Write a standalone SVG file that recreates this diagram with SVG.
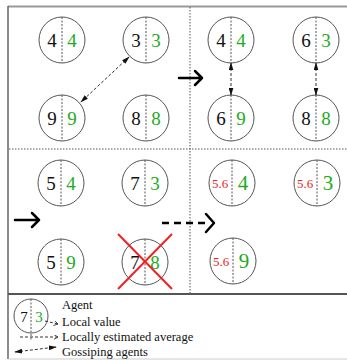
<svg xmlns="http://www.w3.org/2000/svg" width="347" height="360" viewBox="0 0 347 360">
<style>
.c{fill:none;stroke:#555;stroke-width:1}
.v{stroke:#555;stroke-width:1;stroke-dasharray:2 1.5}
.k{font-family:"Liberation Serif",serif;font-size:19px;fill:#111;text-anchor:middle}
.g{font-family:"Liberation Serif",serif;font-size:19px;fill:#22aa22;text-anchor:middle}
.gb{font-family:"Liberation Serif",serif;font-size:21px;fill:#22aa22;text-anchor:middle}
.r{font-family:"Liberation Serif",serif;font-size:13px;fill:#ee2222;text-anchor:middle}
.lt{font-family:"Liberation Serif",serif;font-size:12.5px;fill:#111}
.gl{stroke:#333;stroke-width:1;stroke-dasharray:3 2;fill:none}
.big{stroke:#000;stroke-width:2.5;fill:none;stroke-linecap:round;stroke-linejoin:round}
.div{stroke:#555;stroke-width:1;stroke-dasharray:1.5 1.5}
</style>
<defs>
<marker id="ah" viewBox="0 0 10 6" refX="9" refY="3" markerWidth="8" markerHeight="5" markerUnits="userSpaceOnUse" orient="auto-start-reverse">
<path d="M0,0 L10,3 L0,6 z" fill="#111"/>
</marker>
<marker id="oh" viewBox="0 0 6 6" refX="5" refY="3" markerWidth="5" markerHeight="5" markerUnits="userSpaceOnUse" orient="auto">
<path d="M0,0 L5,3 L0,6" fill="none" stroke="#333" stroke-width="1"/>
</marker>
</defs>
<g id="frame">
<line x1="8" y1="6.5" x2="347" y2="6.5" stroke="#999" stroke-width="2"/>
<line x1="8" y1="6" x2="8" y2="359" stroke="#666" stroke-width="1.5"/>
<line x1="8" y1="294" x2="347" y2="294" stroke="#555" stroke-width="2"/>
<line x1="8" y1="359" x2="347" y2="359" stroke="#ccc" stroke-width="1"/>
<line class="div" x1="190" y1="7" x2="190" y2="293"/>
<line class="div" x1="9" y1="149" x2="347" y2="149"/>
</g>
<g id="n-tl-1"><circle class="c" cx="62" cy="40" r="23"/><line class="v" x1="62" y1="17" x2="62" y2="63"/><text class="k" x="52" y="47">4</text><text class="g" x="72" y="47">4</text></g>
<g id="n-tl-2"><circle class="c" cx="146" cy="40" r="23"/><line class="v" x1="146" y1="17" x2="146" y2="63"/><text class="k" x="136" y="47">3</text><text class="g" x="156" y="47">3</text></g>
<g id="n-tl-3"><circle class="c" cx="62" cy="118" r="23"/><line class="v" x1="62" y1="95" x2="62" y2="141"/><text class="k" x="52" y="125">9</text><text class="g" x="72" y="125">9</text></g>
<g id="n-tl-4"><circle class="c" cx="146" cy="118" r="23"/><line class="v" x1="146" y1="95" x2="146" y2="141"/><text class="k" x="136" y="125">8</text><text class="g" x="156" y="125">8</text></g>
<g id="n-tr-1"><circle class="c" cx="231" cy="40" r="23"/><line class="v" x1="231" y1="17" x2="231" y2="63"/><text class="k" x="221" y="47">4</text><text class="g" x="241" y="47">4</text></g>
<g id="n-tr-2"><circle class="c" cx="316" cy="40" r="23"/><line class="v" x1="316" y1="17" x2="316" y2="63"/><text class="k" x="306" y="47">6</text><text class="g" x="326" y="47">3</text></g>
<g id="n-tr-3"><circle class="c" cx="231" cy="118" r="23"/><line class="v" x1="231" y1="95" x2="231" y2="141"/><text class="k" x="221" y="125">6</text><text class="g" x="241" y="125">9</text></g>
<g id="n-tr-4"><circle class="c" cx="316" cy="118" r="23"/><line class="v" x1="316" y1="95" x2="316" y2="141"/><text class="k" x="306" y="125">8</text><text class="g" x="326" y="125">8</text></g>
<g id="n-bl-1"><circle class="c" cx="61" cy="183" r="23"/><line class="v" x1="61" y1="160" x2="61" y2="206"/><text class="k" x="51" y="190">5</text><text class="g" x="71" y="190">4</text></g>
<g id="n-bl-2"><circle class="c" cx="145" cy="183" r="23"/><line class="v" x1="145" y1="160" x2="145" y2="206"/><text class="k" x="135" y="190">7</text><text class="g" x="155" y="190">3</text></g>
<g id="n-bl-3"><circle class="c" cx="61" cy="262" r="23"/><line class="v" x1="61" y1="239" x2="61" y2="285"/><text class="k" x="51" y="269">5</text><text class="g" x="71" y="269">9</text></g>
<g id="n-bl-4"><circle class="c" cx="145" cy="262" r="23"/><line class="v" x1="145" y1="239" x2="145" y2="285"/><text class="k" x="135" y="269">7</text><text class="g" x="155" y="269">8</text>
<line x1="118" y1="234" x2="172" y2="289" stroke="#ee2222" stroke-width="2"/><line x1="118" y1="289" x2="172" y2="234" stroke="#ee2222" stroke-width="2"/></g>
<g id="n-br-1"><circle class="c" cx="232" cy="183" r="23"/><line class="v" x1="232" y1="160" x2="232" y2="206"/><text class="r" x="220" y="188">5.6</text><text class="gb" x="243" y="190">4</text></g>
<g id="n-br-2"><circle class="c" cx="317" cy="183" r="23"/><line class="v" x1="317" y1="160" x2="317" y2="206"/><text class="r" x="305" y="188">5.6</text><text class="gb" x="328" y="190">3</text></g>
<g id="n-br-3"><circle class="c" cx="233" cy="261" r="23"/><line class="v" x1="233" y1="238" x2="233" y2="284"/><text class="r" x="221" y="266">5.6</text><text class="gb" x="244" y="268">9</text></g>
<g id="connectors">
<line class="gl" x1="129" y1="57" x2="81" y2="102" marker-start="url(#ah)" marker-end="url(#ah)"/>
<line class="gl" x1="231" y1="63" x2="231" y2="95" marker-start="url(#ah)" marker-end="url(#ah)"/>
<line class="gl" x1="316" y1="63" x2="316" y2="95" marker-start="url(#ah)" marker-end="url(#ah)"/>
<path class="big" d="M179,78 H202 M195,71 L202,78 L195,85"/>
<path class="big" d="M15,220 H39 M32,213 L39,220 L32,227"/>
<line x1="162" y1="223" x2="210" y2="223" stroke="#000" stroke-width="2.5" stroke-dasharray="7 5"/>
<path class="big" d="M206,214 L214,223 L206,232"/>
</g>
<g id="legend">
<circle class="c" cx="31" cy="316" r="17"/>
<line class="v" x1="31" y1="299" x2="31" y2="340"/>
<text class="k" x="24" y="322" style="font-size:15px">7</text>
<text class="g" x="39" y="322" style="font-size:15px">3</text>
<line class="gl" x1="45" y1="321" x2="58" y2="324" marker-end="url(#oh)"/>
<line class="gl" x1="20" y1="337" x2="58" y2="337" marker-end="url(#oh)"/>
<line class="gl" x1="15" y1="352" x2="56" y2="347" marker-start="url(#ah)" marker-end="url(#ah)"/>
<text class="lt" x="62" y="309">Agent</text>
<text class="lt" x="62" y="326">Local value</text>
<text class="lt" x="62" y="341">Locally estimated average</text>
<text class="lt" x="62" y="356">Gossiping agents</text>
</g>
</svg>
